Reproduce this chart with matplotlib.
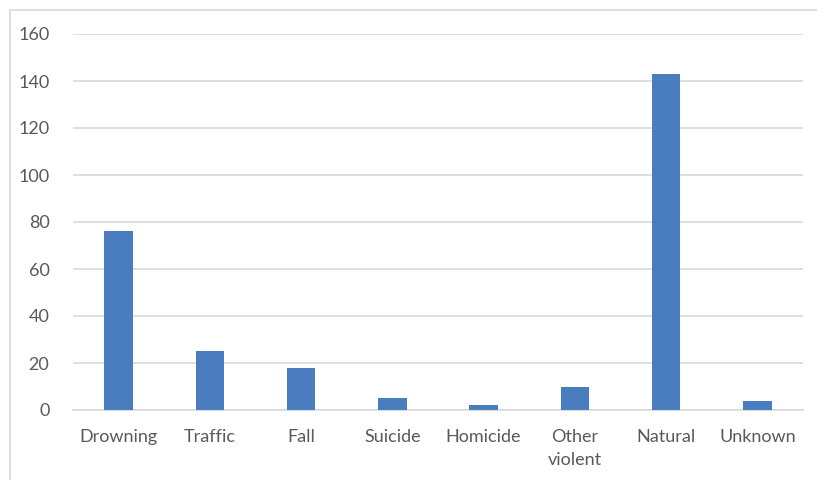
import matplotlib
matplotlib.use("Agg")
import matplotlib.pyplot as plt
from matplotlib.patches import Rectangle

categories = ["Drowning", "Traffic", "Fall", "Suicide", "Homicide",
              "Other\nviolent", "Natural", "Unknown"]
counts = [76, 25, 18, 5, 2, 10, 143, 4]
y_ticks = [0, 20, 40, 60, 80, 100, 120, 140, 160]

BAR_COLOR = "#4a7dbf"
GRID_COLOR = "#d9d9d9"
TEXT_COLOR = "#595959"

plt.rcParams["font.family"] = ["Lato", "DejaVu Sans"]

fig = plt.figure(figsize=(8.17, 4.80), dpi=100)
ax = fig.add_axes([73 / 817, 70 / 480, 730 / 817, 376 / 480])

x = range(len(categories))
ax.bar(x, counts, width=0.31, color=BAR_COLOR, zorder=3)

ax.set_xlim(-0.5, len(categories) - 0.5)
ax.set_ylim(0, 160)
ax.set_yticks(y_ticks)
ax.set_xticks(list(x))
ax.set_xticklabels(categories, linespacing=1.5)
ax.yaxis.grid(True, color=GRID_COLOR, linewidth=1.2, zorder=0)
ax.tick_params(axis="both", length=0, labelsize=13, labelcolor=TEXT_COLOR)
ax.tick_params(axis="y", pad=17)
ax.tick_params(axis="x", pad=14)
for side in ["top", "right", "left"]:
    ax.spines[side].set_visible(False)
ax.spines["bottom"].set_color(GRID_COLOR)
ax.spines["bottom"].set_linewidth(1.2)

# outer chart border
fig.patches.append(Rectangle((10 / 817, -0.1), 1.2, 1.1 - 10 / 480,
                             transform=fig.transFigure, fill=False,
                             edgecolor=GRID_COLOR, linewidth=1.2))

fig.savefig("out.png", dpi=100)
